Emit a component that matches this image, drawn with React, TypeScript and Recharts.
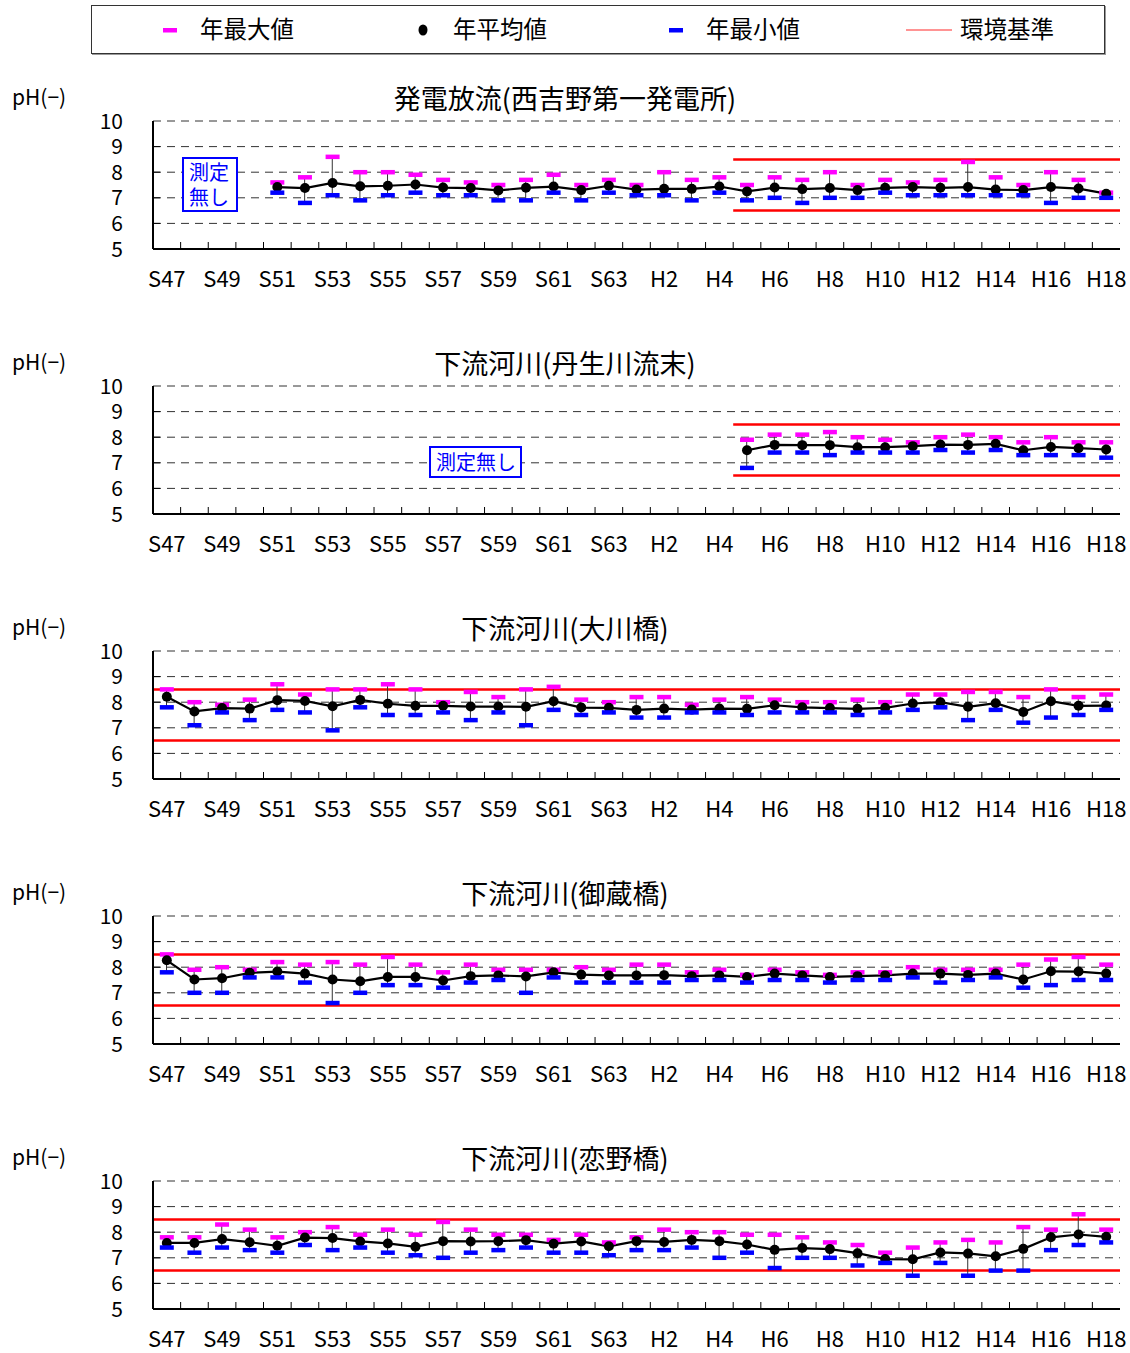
import React from 'react';
import { ComposedChart, Line, Bar, XAxis, YAxis, CartesianGrid, ReferenceArea } from 'recharts';

const categories = [
  'S47', 'S48', 'S49', 'S50', 'S51', 'S52', 'S53', 'S54', 'S55', 'S56', 'S57', 'S58', 'S59', 'S60', 'S61', 'S62', 'S63',
  'H1', 'H2', 'H3', 'H4', 'H5', 'H6', 'H7', 'H8', 'H9', 'H10', 'H11', 'H12', 'H13', 'H14', 'H15', 'H16', 'H17', 'H18',
];
const yTicks = [5, 6, 7, 8, 9, 10];
const envUpper = 8.5;
const envLower = 6.5;

const titles = [
  '発電放流(西吉野第一発電所)',
  '下流河川(丹生川流末)',
  '下流河川(大川橋)',
  '下流河川(御蔵橋)',
  '下流河川(恋野橋)',
];
const envFrom = ['H5', 'H5', 'S47', 'S47', 'S47'];

const n = null;
// Panel 1 : 発電放流
const max1 = [n, n, n, n, 7.6, 7.8, 8.6, 8.0, 8.0, 7.9, 7.7, 7.6, 7.5, 7.7, 7.9, 7.5, 7.7, 7.5, 8.0, 7.7, 7.8, 7.5, 7.8, 7.7, 8.0, 7.5, 7.7, 7.6, 7.7, 8.4, 7.8, 7.5, 8.0, 7.7, 7.2];
const mean1 = [n, n, n, n, 7.42, 7.38, 7.58, 7.45, 7.47, 7.52, 7.4, 7.38, 7.29, 7.39, 7.44, 7.3, 7.47, 7.32, 7.35, 7.35, 7.44, 7.25, 7.4, 7.34, 7.38, 7.3, 7.39, 7.42, 7.39, 7.42, 7.32, 7.3, 7.42, 7.36, 7.16];
const min1 = [n, n, n, n, 7.2, 6.8, 7.1, 6.9, 7.1, 7.2, 7.1, 7.1, 6.9, 6.9, 7.2, 6.9, 7.2, 7.1, 7.1, 6.9, 7.2, 6.9, 7.0, 6.8, 7.0, 7.0, 7.2, 7.1, 7.1, 7.1, 7.1, 7.1, 6.8, 7.0, 7.0];
// Panel 2 : 丹生川流末
const max2 = [n, n, n, n, n, n, n, n, n, n, n, n, n, n, n, n, n, n, n, n, n, 7.9, 8.1, 8.1, 8.2, 8.0, 7.9, 7.8, 8.0, 8.1, 8.0, 7.8, 8.0, 7.8, 7.8];
const mean2 = [n, n, n, n, n, n, n, n, n, n, n, n, n, n, n, n, n, n, n, n, n, 7.49, 7.7, 7.69, 7.69, 7.61, 7.61, 7.65, 7.71, 7.7, 7.74, 7.49, 7.62, 7.57, 7.52];
const min2 = [n, n, n, n, n, n, n, n, n, n, n, n, n, n, n, n, n, n, n, n, n, 6.8, 7.4, 7.4, 7.3, 7.4, 7.4, 7.4, 7.5, 7.4, 7.5, 7.3, 7.3, 7.3, 7.2];
// Panel 3 : 大川橋
const max3 = [8.5, 8.0, 7.9, 8.1, 8.7, 8.3, 8.5, 8.5, 8.7, 8.5, 8.0, 8.4, 8.2, 8.5, 8.6, 8.1, 8.0, 8.2, 8.2, 7.9, 8.1, 8.2, 8.1, 8.0, 8.0, 8.1, 8.0, 8.3, 8.3, 8.4, 8.4, 8.2, 8.5, 8.2, 8.3];
const mean3 = [8.21, 7.64, 7.77, 7.75, 8.08, 8.05, 7.84, 8.09, 7.94, 7.86, 7.86, 7.83, 7.83, 7.82, 8.04, 7.79, 7.78, 7.7, 7.75, 7.71, 7.75, 7.74, 7.88, 7.8, 7.77, 7.74, 7.78, 7.95, 8.0, 7.82, 7.96, 7.62, 8.04, 7.86, 7.87];
const min3 = [7.8, 7.1, 7.6, 7.3, 7.7, 7.6, 6.9, 7.8, 7.5, 7.5, 7.6, 7.3, 7.6, 7.1, 7.7, 7.5, 7.6, 7.4, 7.4, 7.6, 7.6, 7.5, 7.6, 7.6, 7.6, 7.5, 7.6, 7.7, 7.8, 7.3, 7.7, 7.2, 7.4, 7.5, 7.7];
// Panel 4 : 御蔵橋
const max4 = [8.5, 7.9, 8.0, 7.9, 8.2, 8.1, 8.2, 8.1, 8.4, 8.1, 7.8, 8.1, 7.9, 7.9, 7.9, 8.0, 7.9, 8.1, 8.1, 7.8, 7.9, 7.7, 7.9, 7.8, 7.7, 7.8, 7.8, 8.0, 7.9, 7.9, 7.9, 8.1, 8.3, 8.4, 8.1];
const mean4 = [8.27, 7.52, 7.57, 7.78, 7.83, 7.75, 7.52, 7.45, 7.62, 7.62, 7.48, 7.65, 7.68, 7.64, 7.8, 7.71, 7.68, 7.68, 7.69, 7.65, 7.68, 7.62, 7.75, 7.68, 7.62, 7.65, 7.68, 7.75, 7.75, 7.7, 7.75, 7.52, 7.84, 7.83, 7.75];
const min4 = [7.8, 7.0, 7.0, 7.6, 7.6, 7.4, 6.6, 7.0, 7.3, 7.3, 7.2, 7.4, 7.5, 7.0, 7.6, 7.4, 7.4, 7.4, 7.4, 7.5, 7.5, 7.4, 7.5, 7.5, 7.4, 7.5, 7.5, 7.6, 7.4, 7.5, 7.6, 7.2, 7.3, 7.5, 7.5];
// Panel 5 : 恋野橋
const max5 = [7.8, 7.8, 8.3, 8.1, 7.8, 8.0, 8.2, 7.9, 8.1, 7.9, 8.4, 8.1, 7.9, 7.9, 7.7, 7.9, 7.6, 7.8, 8.1, 8.0, 8.0, 7.9, 7.9, 7.8, 7.6, 7.5, 7.2, 7.4, 7.6, 7.7, 7.6, 8.2, 8.1, 8.7, 8.1];
const mean5 = [7.58, 7.58, 7.73, 7.61, 7.47, 7.79, 7.77, 7.64, 7.56, 7.43, 7.65, 7.64, 7.65, 7.69, 7.55, 7.64, 7.45, 7.65, 7.62, 7.7, 7.65, 7.52, 7.31, 7.38, 7.34, 7.18, 6.95, 6.94, 7.21, 7.17, 7.06, 7.35, 7.8, 7.91, 7.82];
const min5 = [7.4, 7.2, 7.4, 7.3, 7.2, 7.5, 7.3, 7.4, 7.2, 7.1, 7.0, 7.2, 7.3, 7.4, 7.2, 7.2, 7.1, 7.3, 7.3, 7.4, 7.0, 7.2, 6.6, 7.0, 7.0, 6.7, 6.8, 6.3, 6.8, 6.3, 6.5, 6.5, 7.3, 7.5, 7.6];

const panelMax = [max1, max2, max3, max4, max5];
const panelMean = [mean1, mean2, mean3, mean4, mean5];
const panelMin = [min1, min2, min3, min4, min5];

const legendLabels = ['年最大値', '年平均値', '年最小値', '環境基準'];

// layout
const W = 1130;
const PLOT_LEFT = 153;
const PLOT_RIGHT = 1120;
const PLOT_H = 128;
const M_TOP = 22;
const XAX_H = 50;
const CH_H = M_TOP + PLOT_H + XAX_H;
const FIRST_PLOT_TOP = 121;
const PANEL_STEP = 265;
const BAND = (PLOT_RIGHT - PLOT_LEFT) / categories.length;

const NUM_FONT = "'Noto Sans CJK JP', 'Noto Sans', sans-serif";
const CJK_FONT = "'Noto Sans CJK JP', sans-serif";

const MAGENTA = '#ff00ff';
const BLUE = '#0000ff';
const RED = '#ff0000';

function dash(color: string) {
  return (p: any) => {
    if (p == null || p.value == null || p.cy == null || isNaN(p.cy)) return <g key={'e' + p?.index} />;
    return <rect key={'d' + p.index} x={p.cx - 7} y={p.cy - 2.25} width={14} height={4.5} fill={color} />;
  };
}

function XTick(props: any) {
  const { x, y, payload, index } = props;
  const i = typeof index === 'number' ? index : payload.index;
  return (
    <g>
      {i > 0 && <line x1={x - BAND / 2} x2={x - BAND / 2} y1={y} y2={y - 7} stroke="#000" strokeWidth={1} />}
      {i % 2 === 0 && (
        <text x={x} y={y + 38} textAnchor="middle" fontFamily={NUM_FONT} fontSize={22} fill="#000">
          {payload.value}
        </text>
      )}
    </g>
  );
}

function YTick(props: any) {
  const { x, y, payload } = props;
  const v = payload.value;
  return (
    <g>
      {v > 5 && v < 10 && <line x1={x + 30} x2={x + 37} y1={y} y2={y} stroke="#000" strokeWidth={1} />}
      <text x={x} y={y} dy="0.36em" textAnchor="end" fontFamily={NUM_FONT} fontSize={21} fill="#000">
        {v}
      </text>
    </g>
  );
}

function envShape(p: any) {
  if (p == null || p.x == null) return <g />;
  return <line x1={p.x} x2={p.x + p.width} y1={p.y} y2={p.y} stroke={RED} strokeWidth={2.5} />;
}

function Panel({ k }: { k: number }) {
  const data = categories.map((c, i) => ({
    cat: c,
    max: panelMax[k][i],
    mean: panelMean[k][i],
    min: panelMin[k][i],
  }));
  const plotTop = FIRST_PLOT_TOP + PANEL_STEP * k;
  return (
    <div style={{ position: 'absolute', left: 0, top: plotTop - M_TOP, width: W, height: CH_H }}>
      <ComposedChart
        width={W}
        height={CH_H}
        data={data}
        margin={{ top: M_TOP, right: W - PLOT_RIGHT, bottom: 0, left: 0 }}
      >
        <CartesianGrid vertical={false} stroke="#333" strokeDasharray="8 6" strokeWidth={1} />
        <XAxis
          dataKey="cat"
          interval={0}
          height={XAX_H}
          tickSize={0}
          tickMargin={0}
          tickLine={false}
          axisLine={{ stroke: '#000', strokeWidth: 2 }}
          tick={<XTick />}
        />
        <XAxis xAxisId="top" dataKey="cat" orientation="top" height={0} tick={false} tickLine={false} axisLine={{ stroke: '#888', strokeWidth: 2 }} />
        <YAxis
          domain={[5, 10]}
          ticks={yTicks}
          type="number"
          width={PLOT_LEFT}
          tickSize={0}
          tickMargin={30}
          tickLine={false}
          axisLine={{ stroke: '#000', strokeWidth: 2 }}
          tick={<YTick />}
          allowDataOverflow
        />
        <YAxis yAxisId="right" orientation="right" domain={[5, 10]} type="number" width={0} tick={false} tickLine={false} axisLine={{ stroke: '#888', strokeWidth: 2 }} />
        <ReferenceArea x1={envFrom[k]} x2={categories[categories.length - 1]} y1={envUpper} y2={envUpper} ifOverflow="visible" shape={envShape} />
        <ReferenceArea x1={envFrom[k]} x2={categories[categories.length - 1]} y1={envLower} y2={envLower} ifOverflow="visible" shape={envShape} />
        <Bar
          dataKey={(d: any) => (d.max != null && d.min != null ? [d.min, d.max] : null)}
          barSize={1}
          fill="#333"
          isAnimationActive={false}
        />
        <Line dataKey="max" stroke="none" dot={dash(MAGENTA)} activeDot={false} isAnimationActive={false} legendType="none" />
        <Line
          dataKey="mean"
          stroke="#000"
          strokeWidth={2.2}
          dot={{ r: 5, fill: '#000', stroke: '#000', strokeWidth: 0 }}
          activeDot={false}
          connectNulls={false}
          isAnimationActive={false}
        />
        <Line dataKey="min" stroke="none" dot={dash(BLUE)} activeDot={false} isAnimationActive={false} legendType="none" />
      </ComposedChart>
    </div>
  );
}

function TextAt({ x, y, children, size, center, font }: any) {
  return (
    <div
      style={{
        position: 'absolute',
        left: center ? 0 : x,
        width: center ? W : undefined,
        textAlign: center ? 'center' : 'left',
        top: y - size * 0.7,
        height: size * 1.4,
        lineHeight: size * 1.4 + 'px',
        fontSize: size,
        fontFamily: font || CJK_FONT,
        color: '#000',
        whiteSpace: 'nowrap',
      }}
    >
      {children}
    </div>
  );
}

function NoData({ left, top, width, height, twoLine }: any) {
  return (
    <div
      style={{
        position: 'absolute',
        left,
        top,
        width,
        height,
        boxSizing: 'border-box',
        border: '2px solid ' + BLUE,
        background: '#fff',
        color: BLUE,
        fontFamily: CJK_FONT,
        fontSize: 20,
        lineHeight: twoLine ? '25px' : height - 4 + 'px',
        paddingLeft: 5,
        paddingTop: 0,
      }}
    >
      {twoLine ? (
        <>
          <div>測定</div>
          <div>無し</div>
        </>
      ) : (
        '測定無し'
      )}
    </div>
  );
}

function Legend() {
  const cy = 30;
  return (
    <div
      style={{
        position: 'absolute',
        left: 91,
        top: 5,
        width: 1014,
        height: 49,
        boxSizing: 'border-box',
        border: '1px solid #333',
        boxShadow: '1px 1px 0 #999',
        background: '#fff',
      }}
    >
      <svg width={1012} height={47} style={{ position: 'absolute', left: 0, top: 0 }}>
        <rect x={163 - 92} y={cy - 6 - 2} width={14} height={4.5} fill={MAGENTA} />
        <ellipse cx={423 - 92} cy={cy - 6} rx={4.5} ry={5.5} fill="#000" />
        <rect x={669 - 92} y={cy - 6 - 2} width={14} height={4.5} fill={BLUE} />
        <line x1={906 - 92} x2={952 - 92} y1={cy - 6} y2={cy - 6} stroke="#ff7070" strokeWidth={1.5} />
      </svg>
      <TextAt x={200 - 92} y={cy - 8} size={23.5}>{legendLabels[0]}</TextAt>
      <TextAt x={453 - 92} y={cy - 8} size={23.5}>{legendLabels[1]}</TextAt>
      <TextAt x={706 - 92} y={cy - 8} size={23.5}>{legendLabels[2]}</TextAt>
      <TextAt x={960 - 92} y={cy - 8} size={23.5}>{legendLabels[3]}</TextAt>
    </div>
  );
}

export default function App() {
  return (
    <div style={{ position: 'absolute', left: 0, top: 0, width: 1130, height: 1353, background: '#fff', overflow: 'hidden' }}>
      <Legend />
      {titles.map((t, k) => (
        <React.Fragment key={k}>
          <TextAt x={12} y={97 + PANEL_STEP * k} size={21} font={NUM_FONT}>pH(−)</TextAt>
          <TextAt center y={98 + PANEL_STEP * k} size={27}>{t}</TextAt>
          <Panel k={k} />
        </React.Fragment>
      ))}
      <NoData left={182} top={157} width={56} height={55} twoLine />
      <NoData left={429} top={446} width={93} height={32} />
    </div>
  );
}
